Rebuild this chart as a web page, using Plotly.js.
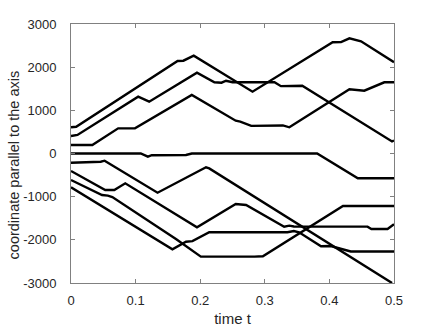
<!DOCTYPE html>
<html>
<head>
<meta charset="utf-8">
<script src="https://cdn.plot.ly/plotly-3.0.1.min.js"></script>
<style>
  html, body { margin: 0; padding: 0; background: #fff; }
  #plot { width: 436px; height: 327px; }
</style>
</head>
<body>
<div id="plot"></div>
<script>
// trajectories: time t and coordinate
var tA = [0, 0.008, 0.165, 0.174, 0.190, 0.281, 0.405, 0.418, 0.431, 0.449, 0.5];
var yA = [607, 620, 2143, 2150, 2265, 1432, 2576, 2580, 2668, 2600, 2115];

var tB = [0, 0.01, 0.104, 0.121, 0.195, 0.222, 0.233, 0.240, 0.250, 0.315, 0.325, 0.358, 0.497, 0.5];
var yB = [405, 430, 1316, 1200, 1872, 1650, 1640, 1686, 1650, 1650, 1560, 1570, 280, 300];

var tC = [0, 0.033, 0.073, 0.099, 0.187, 0.255, 0.262, 0.279, 0.328, 0.338, 0.431, 0.454, 0.485, 0.5];
var yC = [197, 197, 583, 583, 1355, 760, 740, 640, 650, 607, 1487, 1455, 1650, 1650];

var tD = [0, 0.108, 0.119, 0.125, 0.178, 0.187, 0.381, 0.444, 0.5];
var yD = [0, 0, -73, -40, -35, 0, 0, -575, -575];

var tE = [0, 0.046, 0.052, 0.134, 0.209, 0.214, 0.497];
var yE = [-213, -190, -167, -908, -320, -345, -3000];

var tF = [0, 0.053, 0.067, 0.084, 0.195, 0.255, 0.271, 0.330, 0.338, 0.345, 0.459, 0.465, 0.490, 0.5];
var yF = [-405, -845, -845, -691, -1710, -1170, -1193, -1695, -1672, -1690, -1695, -1749, -1749, -1640];

var tG = [0, 0.048, 0.057, 0.064, 0.163, 0.201, 0.284, 0.297, 0.421, 0.5];
var yG = [-614, -961, -975, -1010, -1988, -2390, -2390, -2380, -1216, -1216];

var tH = [0, 0.157, 0.178, 0.188, 0.214, 0.335, 0.345, 0.353, 0.387, 0.402, 0.433, 0.5];
var yH = [-783, -2219, -2043, -2030, -1825, -1825, -1795, -1825, -2150, -2143, -2270, -2270];

var yTicks = [-3000, -2000, -1000, 0, 1000, 2000, 3000];
var yTickText = ['-3000', '-2000', '-1000', '0', '1000', '2000', '3000'];
var xTicks = [0, 0.1, 0.2, 0.3, 0.4, 0.5];
var xTickText = ['0', '0.1', '0.2', '0.3', '0.4', '0.5'];

var series = [[tA, yA], [tB, yB], [tC, yC], [tD, yD], [tE, yE], [tF, yF], [tG, yG], [tH, yH]];

var traces = series.map(function (s) {
    return {
        x: s[0],
        y: s[1],
        mode: 'lines',
        type: 'scatter',
        line: { color: '#000', width: 2.4 },
        showlegend: false,
        hoverinfo: 'skip'
    };
});

var fontFamily = 'Liberation Sans, Arial, sans-serif';

var axisStyle = {
    showgrid: false,
    zeroline: false,
    showline: true,
    linecolor: '#808080',
    linewidth: 1,
    mirror: 'ticks',
    ticks: 'inside',
    ticklen: 4,
    tickcolor: '#808080',
    tickfont: { family: fontFamily, size: 13, color: '#262626' }
};

var layout = {
    width: 436,
    height: 327,
    margin: { l: 71, r: 42, t: 24, b: 44 },
    paper_bgcolor: '#fff',
    plot_bgcolor: '#fff',
    xaxis: Object.assign({}, axisStyle, {
        range: [0, 0.5],
        tickvals: xTicks,
        ticktext: xTickText,
        ticklabelstandoff: 5,
        title: { text: 'time t', standoff: 6, font: { family: fontFamily, size: 15, color: '#262626' } }
    }),
    yaxis: Object.assign({}, axisStyle, {
        range: [-3000, 3000],
        tickvals: yTicks,
        ticktext: yTickText,
        ticklabelstandoff: 11
    }),
    // y label sits a little below the middle of the axis, as in the original
    annotations: [{
        text: 'coordinate parallel to the axis',
        xref: 'paper', yref: 'paper',
        x: -0.178, y: 0.456,
        xanchor: 'center', yanchor: 'middle',
        textangle: -90,
        showarrow: false,
        font: { family: fontFamily, size: 14.5, color: '#262626' }
    }]
};

Plotly.newPlot('plot', traces, layout, { staticPlot: true });
</script>
</body>
</html>
